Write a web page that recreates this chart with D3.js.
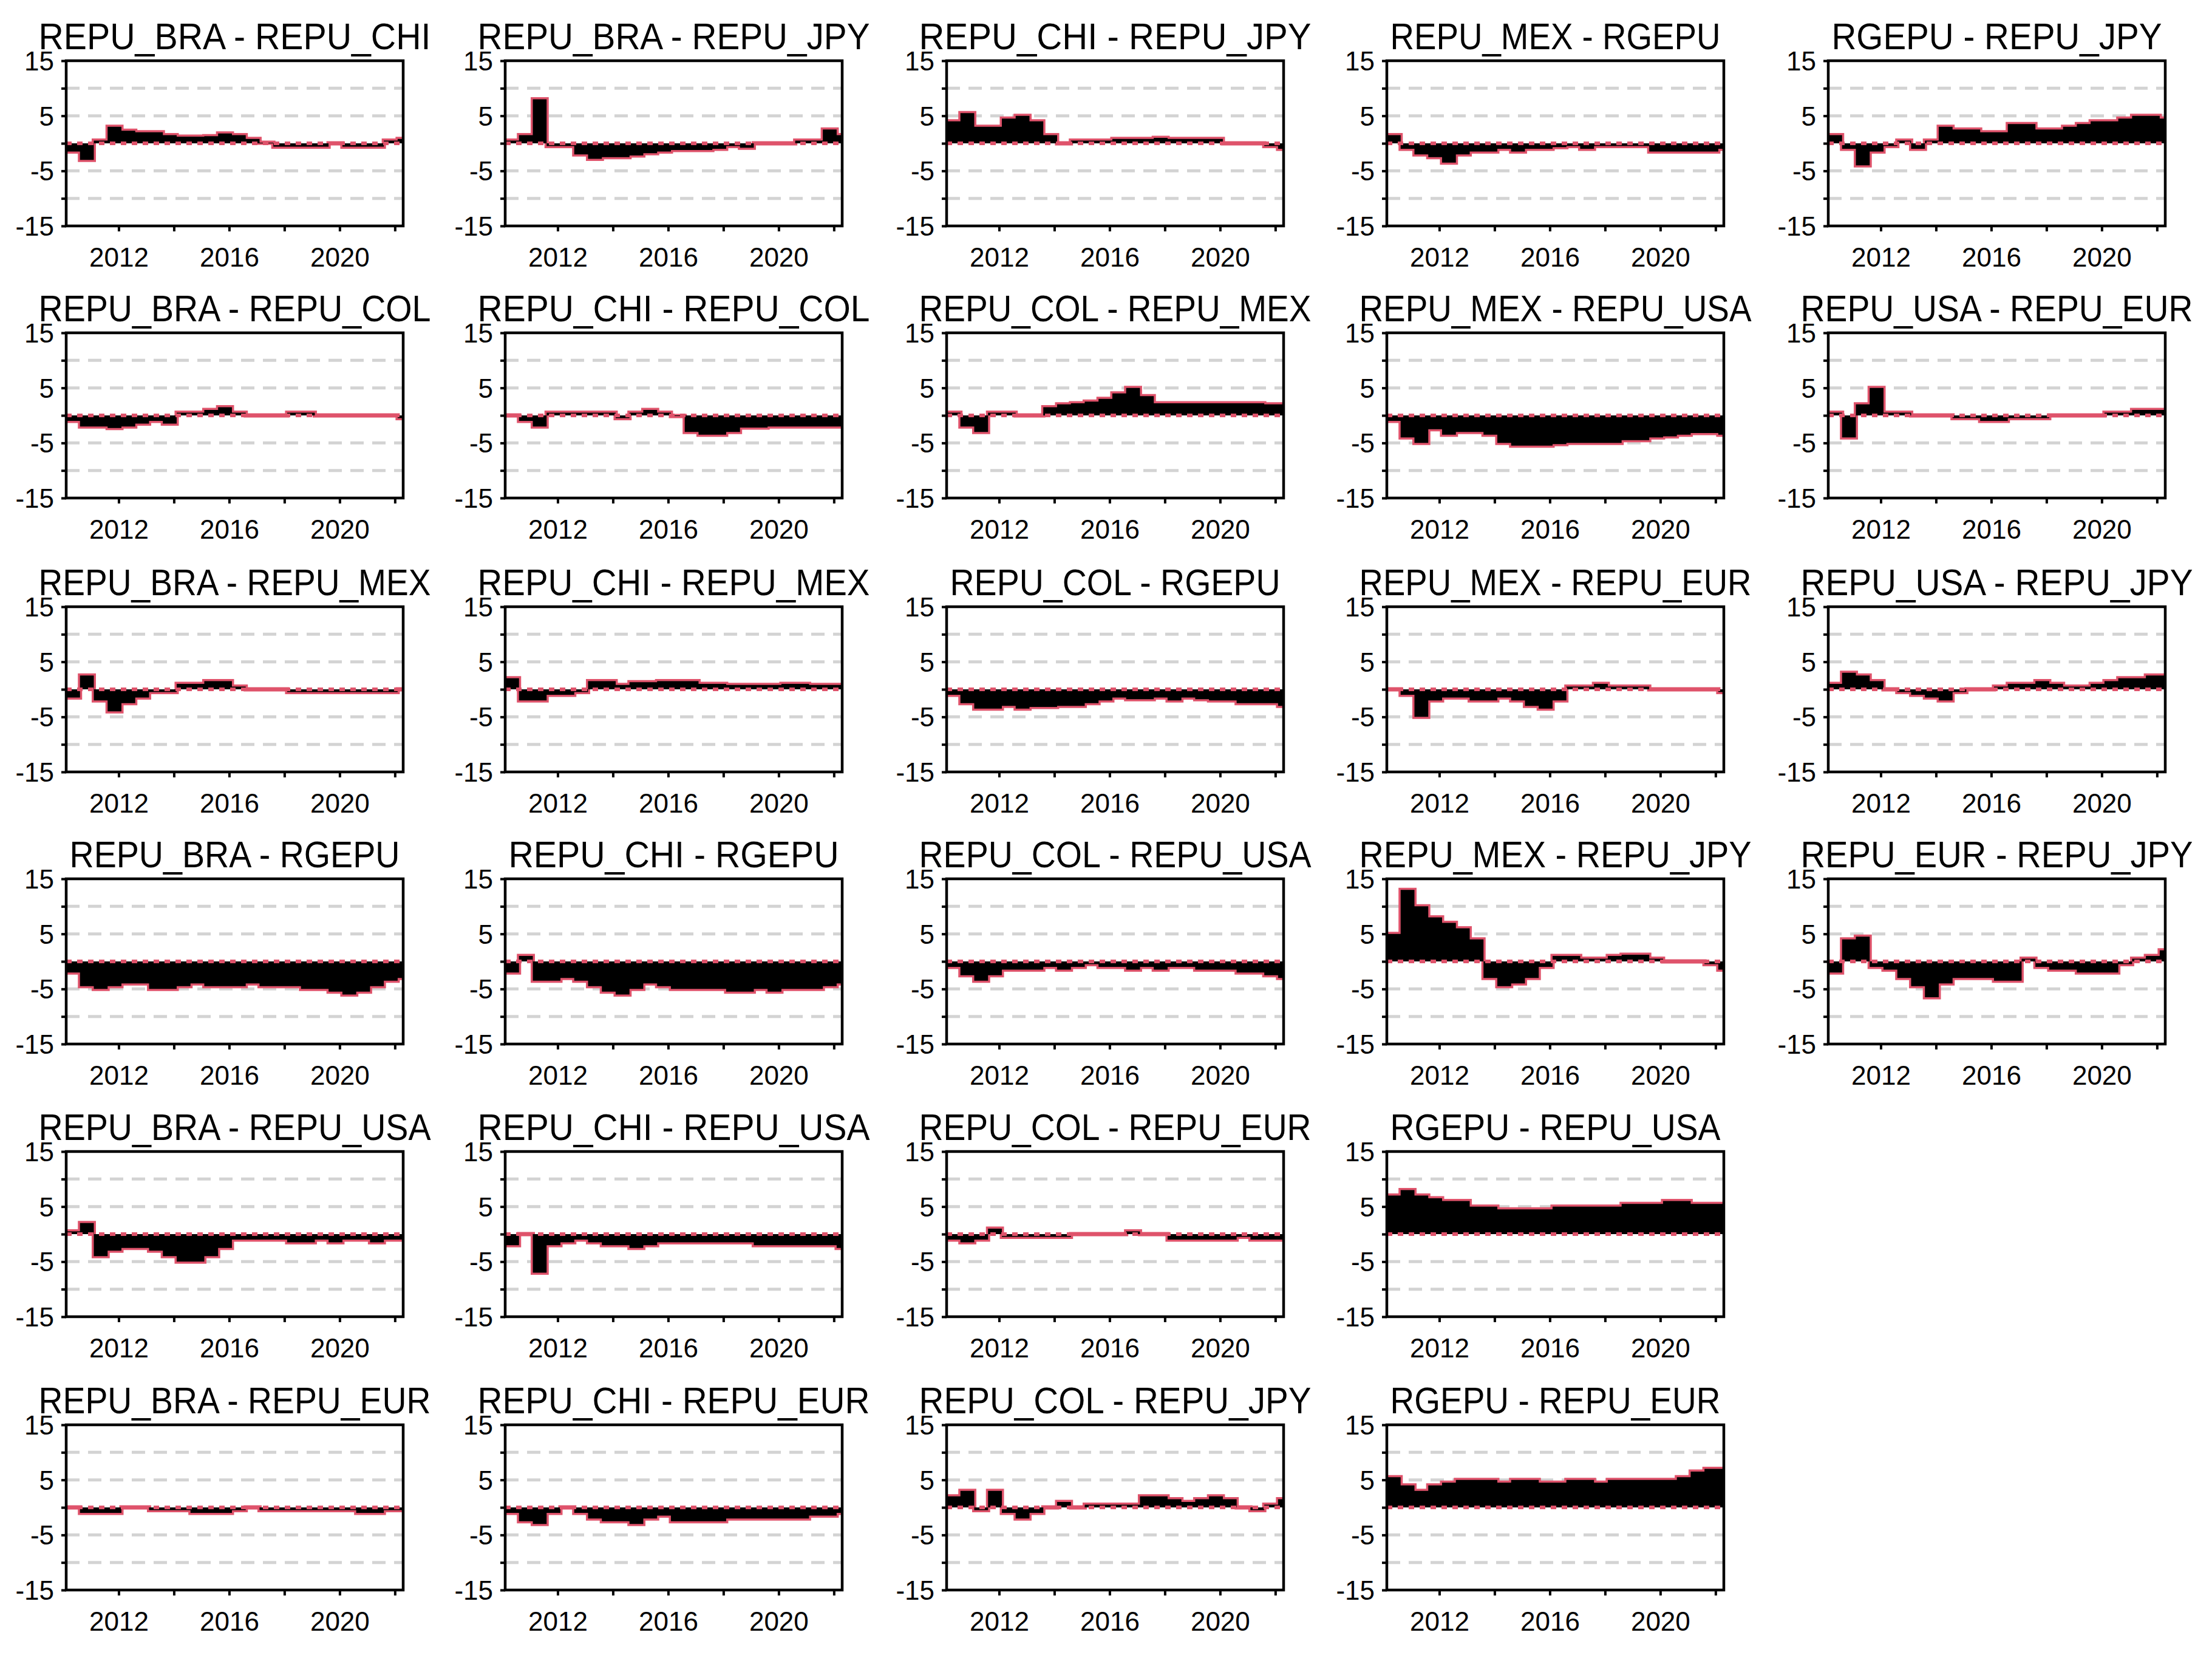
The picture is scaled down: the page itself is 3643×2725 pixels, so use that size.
<!DOCTYPE html>
<html>
<head>
<meta charset="utf-8">
<script src="https://cdn.jsdelivr.net/npm/d3@7"></script>
<style>
  body { margin: 0; background: #fff; }
  text { font-family: "Liberation Sans Narrow", "Liberation Sans", Arial, sans-serif; }
</style>
</head>
<body>
<script>
// half-year sample times, 2010.1 .. 2022.1
let times = d3.range(25).map(function (i) { return 2010.1 + i * 0.5; });

let yTicks = [-15, -10, -5, 0, 5, 10, 15];
let yLabels = [-15, -5, 5, 15];
let xTicks = [2012, 2014, 2016, 2018, 2020, 2022];
let xLabels = [2012, 2016, 2020];

// panel titles in grid order (row by row)
let titles = [
  'REPU_BRA - REPU_CHI', 'REPU_BRA - REPU_JPY', 'REPU_CHI - REPU_JPY', 'REPU_MEX - RGEPU', 'RGEPU - REPU_JPY',
  'REPU_BRA - REPU_COL', 'REPU_CHI - REPU_COL', 'REPU_COL - REPU_MEX', 'REPU_MEX - REPU_USA', 'REPU_USA - REPU_EUR',
  'REPU_BRA - REPU_MEX', 'REPU_CHI - REPU_MEX', 'REPU_COL - RGEPU', 'REPU_MEX - REPU_EUR', 'REPU_USA - REPU_JPY',
  'REPU_BRA - RGEPU', 'REPU_CHI - RGEPU', 'REPU_COL - REPU_USA', 'REPU_MEX - REPU_JPY', 'REPU_EUR - REPU_JPY',
  'REPU_BRA - REPU_USA', 'REPU_CHI - REPU_USA', 'REPU_COL - REPU_EUR', 'RGEPU - REPU_USA',
  'REPU_BRA - REPU_EUR', 'REPU_CHI - REPU_EUR', 'REPU_COL - REPU_JPY', 'RGEPU - REPU_EUR'
];

let bra_chi = [-1.5,-3,0.5,3,2.3,2,2,1.5,1.2,1.2,1.3,1.8,1.5,0.8,0.1,-0.6,-0.6,-0.6,-0.6,0,-0.6,-0.6,-0.6,0.5,0.8];
let bra_jpy = [0.5,1.5,8,-0.5,-0.5,-2,-2.8,-2.5,-2.5,-2.2,-1.8,-1.5,-1.2,-1.2,-1.2,-1,-0.5,-0.8,0,0,0,0.5,0.5,2.5,1.5];
let chi_jpy = [4,5.5,3,3,4.5,5,4,1.5,0,0.5,0.5,0.5,0.8,0.8,0.8,1,0.8,0.8,0.8,0.8,0,0,0,-0.5,-1];
let mex_rgepu = [1.5,-1,-2,-2.5,-3.5,-2,-1.5,-1.5,-1,-1.5,-1,-1,-0.7,-0.5,-1,-0.5,-0.5,-0.5,-0.5,-1.5,-1.5,-1.5,-1.5,-1.5,-1];
let rgepu_jpy = [1.5,-1,-4,-1.5,-0.5,0.5,-1,0.5,3,2.5,2.5,2,2,3.5,3.5,2.5,2.5,3,3.5,4,4,4.5,5,5,4.5];

let bra_col = [-1,-2,-2,-2.3,-2,-1.5,-1,-1.5,0.5,0.5,1,1.5,0.5,0,0,0,0.5,0.5,0,0,0,0,0,0,-0.5];
let chi_col = [0,-1,-2,0.5,0.5,0.5,0.5,0.5,-0.5,0.5,1,0.5,-0.1,-3,-3.5,-3.5,-3,-2.2,-2.2,-2,-2,-2,-2,-2,-2];
let col_mex = [0.5,-2,-3,0.5,0.5,0,0,1.5,2,2.2,2.5,3,4,5,3.5,2.2,2.2,2.2,2.2,2.2,2.2,2.2,2.2,2,2];
let mex_usa = [-1,-4,-5,-2.5,-3.5,-3,-3,-3.5,-5,-5.5,-5.5,-5.5,-5.2,-5,-5,-5,-5,-4.5,-4.5,-4,-3.8,-3.5,-3.2,-3.2,-3.5];
let usa_eur = [0.5,-4,2,5,0.5,0.5,0,0,0,-0.5,-0.5,-1,-1,-0.5,-0.5,-0.5,0,0,0,0,0.5,0.5,1,1,1];

let bra_mex = [-1.5,2.5,-2,-4,-2.5,-1.5,-0.5,-0.5,1,1,1.5,1.5,0.5,0,0,0,-0.5,-0.5,-0.5,-0.5,-0.5,-0.5,-0.5,-0.5,0];
let chi_mex = [2,-2,-2,-1,-1,-0.5,1.5,1.5,0.8,1.3,1.3,1.5,1.5,1.5,1,1,0.8,0.8,0.8,0.8,1,1,0.8,0.8,0.8];
let col_rgepu = [-1,-2.5,-3.5,-3.5,-3,-3.5,-3.2,-3.2,-3,-3,-2.5,-2,-1.5,-1.8,-1.8,-1.5,-2,-1.5,-1.8,-2,-2,-2.5,-2.5,-2.5,-3];
let mex_eur = [0,-1,-5,-2,-1.5,-1.5,-2,-2,-1.5,-2,-3,-3.5,-2,0.5,0.5,1,0.5,0.5,0.5,0,0,0,0,0,-0.5];
let usa_jpy = [1,3,2.5,1.5,0,-0.5,-1,-1.5,-2,-0.5,0,0,0.5,1,1,1.5,1,0.5,0.5,1,1.5,2,2,2.5,2.5];

let bra_rgepu = [-2,-4.5,-5,-4.5,-4,-4,-5,-5,-4.5,-4,-4.5,-4.5,-4.5,-4,-4.5,-4.5,-4.5,-5,-5,-5.5,-6,-5.5,-4.5,-3.5,-3];
let chi_rgepu = [-2,1,-3.5,-3.5,-3,-3.5,-4.5,-5.5,-6,-5,-4,-4.5,-5,-5,-5,-5,-5.5,-5.5,-5,-5.5,-5,-5,-5,-4.5,-4];
let col_usa = [-1,-2.5,-3.5,-2.5,-1.5,-1.5,-1.5,-1,-1.5,-1,-0.5,-1,-1,-1.5,-1,-1.5,-1,-1,-1.5,-1.5,-1.5,-2,-2,-2.5,-3];
let mex_jpy = [5,13,10,8,7,6,4,-3,-4.5,-4,-3,-1,1,1,0.5,0.5,1,1.2,1.2,0.5,0,0,0,-0.5,-1.5];
let eur_jpy = [-2,4,4.5,-1,-1.5,-3,-4.5,-6.5,-4,-3,-3,-3,-3.5,-3.5,0.5,-1,-1.5,-1.5,-2,-2,-2,-0.5,0.5,1,2];

let bra_usa = [0.5,2,-4,-3,-2.5,-2.5,-3,-4,-5,-5,-4,-2.5,-1,-1,-1,-1,-1.5,-1.5,-1,-1.5,-1,-1,-1.5,-1,-1];
let chi_usa = [-2,0,-7,-2,-1.5,-1,-1.5,-2,-2,-2.5,-2,-1.5,-1.5,-1.5,-1.5,-1.5,-1.5,-1.5,-2,-2,-2,-2,-2,-2,-2.5];
let col_eur = [-1,-1.5,-1,1,-0.5,-0.5,-0.5,-0.5,-0.5,0,0,0,0,0.5,0,0,-1,-1,-1,-1,-1,-0.5,-1,-1,-1];
let rgepu_usa = [7,8,7,6.5,6,6,5,5,4.5,4.5,4.5,4.5,5,5,5,5,5,5.5,5.5,5.5,6,6,5.5,5.5,5.5];

let bra_eur = [0,-1,-1,-1,0,0,-0.5,-0.5,-0.5,-1,-1,-1,-0.5,0,-0.5,-0.5,-0.5,-0.5,-0.5,-0.5,-0.5,-1,-1,-0.5,-0.5];
let chi_eur = [-1,-2.5,-3,-1,0,-1,-2,-2.5,-2.5,-3,-2,-1.5,-2.5,-2.5,-2.5,-2.5,-2,-2,-2,-2,-2,-2,-1.5,-1.5,-1];
let col_jpy = [2,3,-0.5,3,-1,-2,-1,0,1,0,0.5,0.5,0.5,0.5,2,2,1.5,1,1.5,2,1.5,0,-0.5,0.5,1.5];
let rgepu_eur = [5.5,4,3,4,4.5,5,5,5,4.5,5,5,4.5,4.5,5,5,4.5,5,5,5,5,5,5.5,6.5,7,7];

let series = [
  bra_chi, bra_jpy, chi_jpy, mex_rgepu, rgepu_jpy,
  bra_col, chi_col, col_mex, mex_usa, usa_eur,
  bra_mex, chi_mex, col_rgepu, mex_eur, usa_jpy,
  bra_rgepu, chi_rgepu, col_usa, mex_jpy, eur_jpy,
  bra_usa, chi_usa, col_eur, rgepu_usa,
  bra_eur, chi_eur, col_jpy, rgepu_eur
];

let W = 3643, H = 2725;
let panelW = 555, panelH = 272;
let colLeft = [109, 832, 1559, 2284, 3011];
let rowTop = [100, 548, 999, 1447, 1896, 2346];

// rows 1-4 hold 5 panels, rows 5-6 hold 4
function slot(k) {
  if (k < 20) return [Math.floor(k / 5), k % 5];
  return [4 + Math.floor((k - 20) / 4), (k - 20) % 4];
}

let svg = d3.select('body').append('svg').attr('width', W).attr('height', H);

let x = d3.scaleLinear().domain([2010.1, 2022.3]).range([0, panelW]);
let y = d3.scaleLinear().domain([-15, 15]).range([panelH, 0]);

series.forEach(function (vals, k) {
  let rc = slot(k), r = rc[0], c = rc[1];
  let pts = vals.map(function (v, i) { return [times[i], v]; });
  pts.push([2022.3, vals[vals.length - 1]]);

  let g = svg.append('g').attr('transform', 'translate(' + colLeft[c] + ',' + rowTop[r] + ')');

  // dashed grid
  g.selectAll('.grid').data([-10, -5, 5, 10]).enter().append('line')
    .attr('x1', 0).attr('x2', panelW)
    .attr('y1', function (d) { return y(d); }).attr('y2', function (d) { return y(d); })
    .attr('stroke', '#d3d3d3').attr('stroke-width', 5).attr('stroke-dasharray', '22,14');

  // red outline line, then black area on top
  g.append('path').datum(pts)
    .attr('fill', 'none').attr('stroke', '#df536b').attr('stroke-width', 7)
    .attr('d', d3.line().x(function (d) { return x(d[0]); }).y(function (d) { return y(d[1]); }).curve(d3.curveStepAfter));

  g.append('path').datum(pts)
    .attr('fill', '#000')
    .attr('d', d3.area().x(function (d) { return x(d[0]); }).y0(y(0)).y1(function (d) { return y(d[1]); }).curve(d3.curveStepAfter));

  // red dotted zero line
  g.append('line').attr('x1', 0).attr('x2', panelW).attr('y1', y(0)).attr('y2', y(0))
    .attr('stroke', '#df536b').attr('stroke-width', 6).attr('stroke-dasharray', '9,9');

  // box
  g.append('rect').attr('width', panelW).attr('height', panelH)
    .attr('fill', 'none').attr('stroke', '#000').attr('stroke-width', 4.5);

  // y axis
  let ya = g.append('g').call(d3.axisLeft(y).tickValues(yTicks).tickSize(8)
    .tickFormat(function (d) { return yLabels.indexOf(d) >= 0 ? d : ''; }));
  ya.select('.domain').remove();
  ya.selectAll('line').attr('stroke-width', 4);
  ya.selectAll('text').attr('font-size', 44).attr('x', -20).attr('dy', '0.35em')
    .style('font-family', '"Liberation Sans", Arial, sans-serif');

  // x axis
  let xa = g.append('g').attr('transform', 'translate(0,' + panelH + ')')
    .call(d3.axisBottom(x).tickValues(xTicks).tickSize(9)
      .tickFormat(function (d) { return xLabels.indexOf(d) >= 0 ? d : ''; }));
  xa.select('.domain').remove();
  xa.selectAll('line').attr('stroke-width', 4);
  xa.selectAll('text').attr('font-size', 44).attr('y', 36)
    .style('font-family', '"Liberation Sans", Arial, sans-serif');

  // title
  let t = titles[k];
  g.append('text').attr('x', panelW / 2).attr('y', -19)
    .attr('text-anchor', 'middle').attr('font-size', 62).attr('fill', '#000')
    .attr('textLength', t.length * 34).attr('lengthAdjust', 'spacingAndGlyphs')
    .text(t);
});
</script>
</body>
</html>
